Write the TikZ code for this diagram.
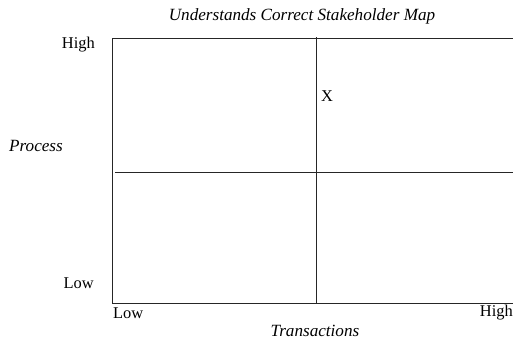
\documentclass[tikz,border=0pt]{standalone}
\usepackage{fontspec}
\setmainfont{Liberation Serif}
\begin{document}
\begin{tikzpicture}[x=1bp,y=-1bp,
  lbl/.style={inner sep=0pt, font=\fontsize{16.5}{18}\selectfont},
  ital/.style={lbl, font=\fontsize{17.2}{19}\selectfont\itshape},
  axis/.style={line width=0.9bp, draw=black!85}]
\useasboundingbox (0,0) rectangle (513,344);
% frame points
\coordinate (tl) at (112,38);
\coordinate (tr) at (513,38);
\coordinate (bl) at (112,303);
\coordinate (br) at (513,303);
\coordinate (mt) at (316,37);
\coordinate (mb) at (316,303);
\coordinate (ml) at (115,172);
\coordinate (mr) at (513,172);
\draw[axis] (tr) -- (tl) -- (bl) -- (br);
\draw[axis] (mt) -- (mb);
\draw[axis] (ml) -- (mr);
% labels
\node[ital] (title) at (302,16) {Understands Correct Stakeholder Map};
\node[lbl, anchor=east] (yhigh) at (95,45) {High};
\node[ital] (ylab) at (36,146) {Process};
\node[lbl, anchor=east] (ylow) at (94,283) {Low};
\node[lbl] (xmark) at (327,96) {X};
\node[lbl, anchor=west] (xlow) at (113,313) {Low};
\node[lbl, anchor=east] (xhigh) at (513,313) {High};
\node[ital] (xlab) at (315,331) {Transactions};
\end{tikzpicture}
\end{document}
